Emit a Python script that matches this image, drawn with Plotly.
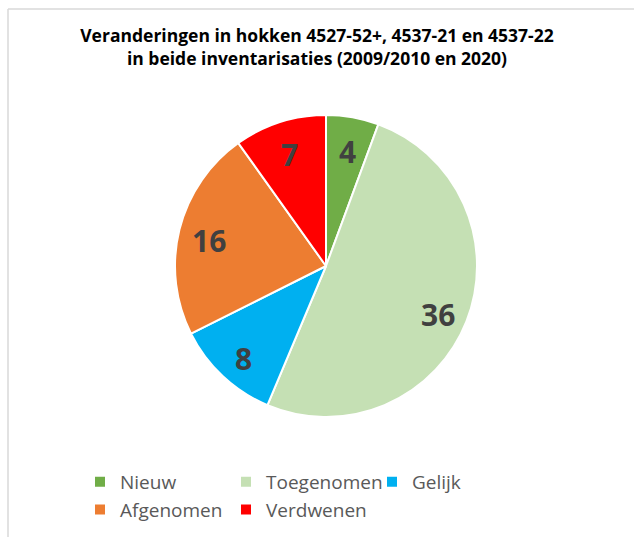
import math
import plotly.graph_objects as go

# Changes in the three grid squares between the two surveys
categories = ["Nieuw", "Toegenomen", "Gelijk", "Afgenomen", "Verdwenen"]
counts = [4, 36, 8, 16, 7]
colors = ["#70AD47", "#C5E0B4", "#00B0F0", "#ED7D31", "#FF0000"]

W, H = 634, 537
# narrower plot area so the legend wraps after three entries
ML, MR = 20, 154
PW = W - ML - MR

def px_x(x):
    return (x - ML) / PW

def px_y(y):
    return 1 - y / H

# pie placement (pixels)
cx, cy, R = 326, 266, 151
label_radius = 0.8

fig = go.Figure(
    go.Pie(
        labels=categories,
        values=counts,
        sort=False,
        direction="clockwise",
        rotation=0,
        marker=dict(colors=colors, line=dict(color="white", width=2)),
        textinfo="none",
        hoverinfo="label+value",
        domain=dict(x=[px_x(cx - R), px_x(cx + R)], y=[px_y(cy + R), px_y(cy - R)]),
    )
)

# value labels at the middle angle of each slice
total = sum(counts)
cum = 0
annotations = []
for v in counts:
    mid = (cum + v / 2) / total * 2 * math.pi
    cum += v
    lx = cx + label_radius * R * math.sin(mid)
    ly = cy - label_radius * R * math.cos(mid)
    annotations.append(dict(
        x=px_x(lx), y=px_y(ly), xref="paper", yref="paper",
        text=f"<b>{v}</b>", showarrow=False,
        xanchor="center", yanchor="middle", yshift=-4,
        font=dict(family="Open Sans", size=30, color="#404040"),
    ))

fig.update_layout(
    width=W,
    height=H,
    margin=dict(l=ML, r=MR, t=0, b=0, autoexpand=False),
    paper_bgcolor="white",
    annotations=annotations,
    title=dict(
        text="<b>Veranderingen in hokken 4527-52+, 4537-21 en 4537-22<br>in beide inventarisaties (2009/2010 en 2020)</b>",
        xref="container",
        x=317 / W,
        xanchor="center",
        y=1 - 42 / H,
        yanchor="top",
        font=dict(family="Open Sans", size=17.5, color="#000000"),
    ),
    legend=dict(
        orientation="h",
        xref="container",
        yref="container",
        x=80 / W,
        xanchor="left",
        y=1 - 463 / H,
        yanchor="top",
        entrywidth=101,
        entrywidthmode="pixels",
        font=dict(family="Open Sans", size=19, color="#595959"),
        itemsizing="constant",
    ),
    shapes=[
        dict(type="line", xref="paper", yref="paper",
             x0=px_x(8), x1=px_x(W), y0=px_y(9), y1=px_y(9),
             line=dict(color="#D9D9D9", width=1.5)),
        dict(type="line", xref="paper", yref="paper",
             x0=px_x(8), x1=px_x(8), y0=0, y1=px_y(9),
             line=dict(color="#D9D9D9", width=1.5)),
    ],
)

fig.write_html("out.html")
